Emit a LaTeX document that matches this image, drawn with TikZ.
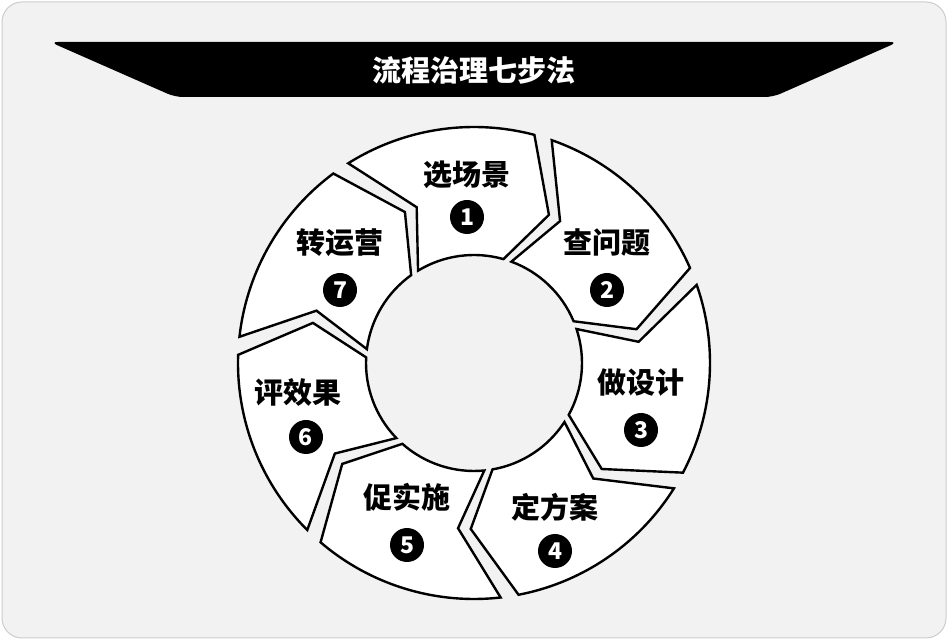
\documentclass[tikz,border=0pt]{standalone}
\usepackage{fontspec}
\setmainfont{Noto Sans CJK SC}[BoldFont={* Bold}]
\newfontfamily\cjkb{Noto Sans CJK SC Black}
\begin{document}
\begin{tikzpicture}[x=1pt,y=1pt,
  seg/.style={fill=white,draw=black,line width=2.4pt,line join=miter},
  lbl/.style={font=\cjkb\fontsize{29}{32}\selectfont,inner sep=0pt},
  num/.style={circle,fill=black,text=white,minimum size=34pt,inner sep=0pt,font=\cjkb\fontsize{23}{24}\selectfont}]
\useasboundingbox (0,0) rectangle (948,640);
\draw[fill=black!5,draw=black!20,line width=1pt,rounded corners=20pt] (2,2) rectangle (946,638);
\fill[black,rounded corners=8pt] (50,598) -- (898,598) -- (773,543) -- (175,543) -- cycle;
\node[font=\cjkb\fontsize{29}{32}\selectfont,text=white] (title) at (474,570) {流程治理七步法};
\begin{scope}[shift={(474,277)}]
\foreach \i in {0,...,6}{
  \pgfmathsetmacro\os{124.4-\i*51.43-2.2}
  \pgfmathsetmacro\oe{124.4-(\i+1)*51.43+2.2}
  \draw[seg] (\os:236) arc[start angle=\os,end angle=\oe,radius=236]
     -- ({\oe-12}:166) -- ({\oe-1}:108)
     arc[start angle={\oe-1},end angle={\os-1},radius=108]
     -- ({\os-12}:166) -- cycle;
}
\end{scope}
\node[lbl] (t1) at (467,465) {选场景};
\node[num] (n1) at (467,423) {1};
\node[lbl] (t2) at (607,398) {查问题};
\node[num] (n2) at (607,350) {2};
\node[lbl] (t3) at (641,257) {做设计};
\node[num] (n3) at (641,210) {3};
\node[lbl] (t4) at (555,133) {定方案};
\node[num] (n4) at (555,89) {4};
\node[lbl] (t5) at (407,143) {促实施};
\node[num] (n5) at (407,95) {5};
\node[lbl] (t6) at (298,248) {评效果};
\node[num] (n6) at (306,203) {6};
\node[lbl] (t7) at (340,397) {转运营};
\node[num] (n7) at (340,350) {7};
\end{tikzpicture}
\end{document}
